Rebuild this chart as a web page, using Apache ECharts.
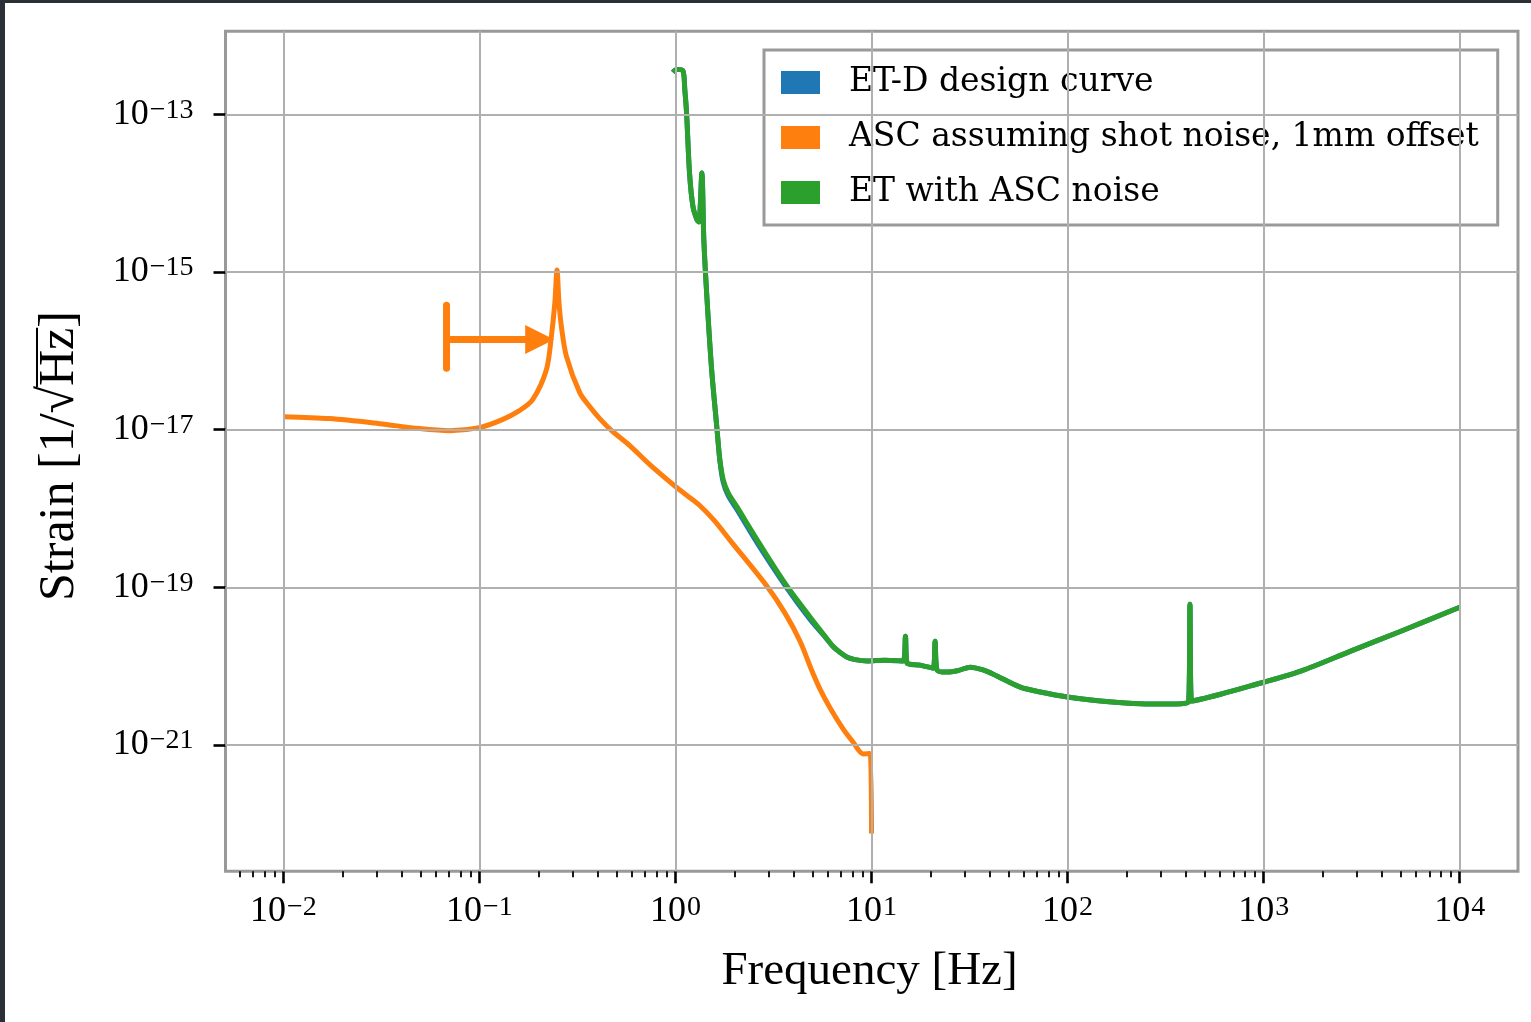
<!DOCTYPE html>
<html>
<head>
<meta charset="utf-8">
<script src="https://cdn.jsdelivr.net/npm/echarts@6/dist/echarts.min.js"></script>
<style>
  html, body { margin: 0; padding: 0; background: #fff; }
  #chart { width: 1531px; height: 1022px; }
  #edge { position: absolute; left: 0; top: 0; width: 1531px; height: 1022px; box-sizing: border-box;
          border-left: 5px solid #2b2f36; border-top: 3px solid #2b2f36; pointer-events: none; }
</style>
</head>
<body>
<div id="chart"></div>
<div id="edge"></div>
<script>
// ET-D design curve
const etdFreq = [0.97, 1.016, 1.09, 1.117, 1.14, 1.18, 1.23, 1.29, 1.317, 1.364, 1.396, 1.45, 1.53, 1.63,
  1.685, 1.752, 1.858, 2.05, 2.70, 3.71, 4.86, 5.79, 6.36, 6.91, 7.5, 8.25, 9.5, 11.7, 14.5, 14.9, 15.2, 17.7,
  20.6, 21.1, 21.6, 24.3, 27.7, 31.9, 36.7, 41.8, 57.4, 72.6, 100, 147, 197, 265, 335, 414, 421, 429, 603,
  857, 1545, 2780, 5010, 10000]
const etdStrain = [3.4e-13, 3.7e-13, 3.6e-13, 2.0e-13, 1.03e-13, 1.79e-14, 6.65e-15, 4.55e-15, 4.3e-15, 1.8e-14,
  2.54e-15, 4.4e-16, 5.75e-17, 1.0e-17, 4.0e-18, 2.15e-18, 1.45e-18, 9.85e-19, 3.2e-19, 9.7e-20, 3.9e-20,
  2.35e-20, 1.77e-20, 1.49e-20, 1.3e-20, 1.21e-20, 1.16e-20, 1.19e-20, 1.16e-20, 2.4e-20, 1.09e-20, 1.03e-20,
  9.4e-21, 2.07e-20, 8.9e-21, 8.4e-21, 8.8e-21, 9.7e-21, 9.0e-21, 7.9e-21, 5.4e-21, 4.69e-21, 4.05e-21,
  3.6e-21, 3.4e-21, 3.3e-21, 3.3e-21, 3.5e-21, 6.1e-20, 3.6e-21, 4.4e-21, 5.6e-21, 8.65e-21, 1.55e-20,
  2.77e-20, 5.58e-20]

// ASC, shot noise, 1mm offset
const ascFreq = [0.01, 0.0172, 0.0309, 0.0495, 0.0705, 0.1, 0.131, 0.160, 0.187, 0.2197, 0.2329, 0.2425,
  0.2489, 0.2545, 0.262, 0.278, 0.325, 0.366, 0.411, 0.473, 0.585, 0.74, 1.0, 1.15, 1.33, 1.58, 1.90, 2.93,
  3.62, 4.32, 4.97, 5.46, 6.15, 7.16, 8.05, 9.06, 9.84, 10.0]
const ascStrain = [1.46e-17, 1.38e-17, 1.19e-17, 1.03e-17, 9.7e-18, 1.06e-17, 1.34e-17, 1.74e-17, 2.4e-17,
  5.75e-17, 1.52e-16, 4.0e-16, 1.06e-15, 4.2e-16, 2.03e-16, 8.5e-17, 2.95e-17, 1.95e-17, 1.38e-17, 9.7e-18,
  6.27e-18, 3.6e-18, 1.9e-18, 1.45e-18, 1.09e-18, 7.0e-19, 3.94e-19, 1.03e-19, 4.7e-20, 2.07e-20, 8.65e-21,
  5.1e-21, 2.94e-21, 1.6e-21, 1.09e-21, 7.7e-22, 7.8e-22, 7.5e-23]

// ET with ASC noise
const totalFreq = etdFreq
const totalStrain = [3.4e-13, 3.7e-13, 3.6e-13, 2.0e-13, 1.03e-13, 1.79e-14, 6.65e-15, 4.55e-15, 4.3e-15, 1.8e-14,
  2.54e-15, 4.4e-16, 5.75e-17, 1.0e-17, 4.17e-18, 2.33e-18, 1.58e-18, 1.07e-18, 3.5e-19, 1.03e-19, 4.2e-20,
  2.4e-20, 1.79e-20, 1.5e-20, 1.3e-20, 1.21e-20, 1.16e-20, 1.19e-20, 1.16e-20, 2.4e-20, 1.09e-20, 1.03e-20,
  9.4e-21, 2.07e-20, 8.9e-21, 8.4e-21, 8.8e-21, 9.7e-21, 9.0e-21, 7.9e-21, 5.4e-21, 4.69e-21, 4.05e-21,
  3.6e-21, 3.4e-21, 3.3e-21, 3.3e-21, 3.5e-21, 6.1e-20, 3.6e-21, 4.4e-21, 5.6e-21, 8.65e-21, 1.55e-20,
  2.77e-20, 5.58e-20]

// arrow annotation
const arrowFreq = [0.068, 0.203]
const arrowStrain = 1.39e-16
const barStrain = [3.77e-16, 6.0e-17]

// tick exponents
const xTicks = [-2, -1, 0, 1, 2, 3, 4]
const yTicks = [-13, -15, -17, -19, -21]
const seriesNames = ['ET-D design curve', 'ASC assuming shot noise, 1mm offset', 'ET with ASC noise']

const lg = Math.log10
const pairs = (fs, hs) => fs.map((f, i) => [lg(f), lg(hs[i])])
const minorTicks = []
for (let e = -3; e <= 4; e++) {
  for (let k = 2; k <= 9; k++) minorTicks.push(e + lg(k))
}

const serif = '"Liberation Serif", "DejaVu Serif", serif'
const expText = v => '{b|10}{s|' + (v < 0 ? '\u2212' + (-v) : v) + '}'
const labelRich = {
  b: { fontSize: 36, fontFamily: serif, color: '#000', lineHeight: 36 },
  s: { fontSize: 28, fontFamily: serif, color: '#000', lineHeight: 18, verticalAlign: 'top', padding: [0, 0, 0, 1] }
}

const ctx = document.createElement('canvas').getContext('2d')
const titleSize = 50
ctx.font = titleSize + 'px "Liberation Serif"'
const wPre = ctx.measureText('Strain [1/\u221A').width
const wHz = ctx.measureText('Hz').width
const wAll = ctx.measureText('Strain [1/\u221AHz]').width

const chart = echarts.init(document.getElementById('chart'))
const gridColor = '#b0b0b0'
const curve = { type: 'line', showSymbol: false, smooth: 0.3 }

chart.setOption({
  animation: false,
  backgroundColor: '#fff',
  grid: {
    left: 225.5,
    top: 31.3,
    width: 1292.5,
    height: 840,
    show: true,
    borderColor: '#999',
    borderWidth: 3,
    backgroundColor: 'transparent'
  },
  legend: {
    orient: 'vertical',
    left: 764,
    top: 50,
    padding: [16, 19, 16, 17],
    itemWidth: 39,
    itemHeight: 23,
    itemGap: 22,
    icon: 'rect',
    borderColor: '#999',
    borderWidth: 3,
    backgroundColor: 'rgba(255,255,255,0.8)',
    textStyle: {
      fontFamily: '"DejaVu Serif", serif',
      fontSize: 33,
      color: '#000',
      padding: [0, 0, 0, 24]
    },
    data: seriesNames
  },
  xAxis: [{
    type: 'value',
    min: -2.2948,
    max: 4.2973,
    position: 'bottom',
    axisLine: { show: false, onZero: false },
    splitLine: { show: false },
    axisTick: { customValues: xTicks, length: 12, lineStyle: { color: '#000', width: 2.6 } },
    axisLabel: { customValues: xTicks, margin: 22, formatter: expText, rich: labelRich }
  }, {
    type: 'value',
    min: -2.2948,
    max: 4.2973,
    position: 'bottom',
    axisLine: { show: false, onZero: false },
    splitLine: { show: false },
    axisLabel: { show: false },
    axisTick: { customValues: minorTicks, length: 6, lineStyle: { color: '#000', width: 1.8 } }
  }],
  yAxis: {
    type: 'value',
    min: -22.603,
    max: -11.947,
    position: 'left',
    axisLine: { show: false, onZero: false },
    splitLine: { show: false },
    axisTick: { customValues: yTicks, length: 12, lineStyle: { color: '#000', width: 2.6 } },
    axisLabel: { customValues: yTicks, margin: 32, formatter: expText, rich: labelRich }
  },
  graphic: [{
    type: 'text',
    x: 869.5,
    y: 972,
    style: { text: 'Frequency [Hz]', fontSize: 47, fontFamily: serif, fill: '#000', align: 'center', verticalAlign: 'middle' }
  }, {
    type: 'group',
    x: 60,
    y: 456,
    rotation: Math.PI / 2,
    children: [{
      type: 'text',
      x: -wAll / 2,
      y: 0,
      style: { text: 'Strain [1/\u221AHz]', fontSize: titleSize, fontFamily: serif, fill: '#000', align: 'left', verticalAlign: 'middle' }
    }, {
      type: 'line',
      shape: { x1: -wAll / 2 + wPre - 1, y1: -23, x2: -wAll / 2 + wPre + wHz, y2: -23 },
      style: { stroke: '#000', lineWidth: 2 }
    }]
  }],
  series: [{
    // grid lines
    type: 'line',
    data: [],
    z: 1,
    silent: true,
    markLine: {
      silent: true,
      symbol: 'none',
      label: { show: false },
      lineStyle: { color: gridColor, width: 2, type: 'solid' },
      data: xTicks.map(v => ({ xAxis: v })).concat(yTicks.map(v => ({ yAxis: v })))
    }
  }, {
    ...curve,
    name: seriesNames[0],
    z: 3,
    color: '#1f77b4',
    lineStyle: { width: 5, color: '#1f77b4' },
    data: pairs(etdFreq, etdStrain)
  }, {
    ...curve,
    name: seriesNames[1],
    z: 3,
    color: '#ff7f0e',
    lineStyle: { width: 5, color: '#ff7f0e' },
    data: pairs(ascFreq, ascStrain)
  }, {
    ...curve,
    name: seriesNames[2],
    z: 4,
    color: '#2ca02c',
    lineStyle: { width: 5, color: '#2ca02c' },
    data: pairs(totalFreq, totalStrain)
  }, {
    // arrow annotation: bar + arrow
    type: 'line',
    z: 3,
    showSymbol: false,
    silent: true,
    lineStyle: { width: 7, color: '#ff7f0e', cap: 'round' },
    data: barStrain.map(h => [lg(arrowFreq[0]), lg(h)]),
    markLine: {
      silent: true,
      symbol: ['none', 'triangle'],
      symbolSize: [29, 29],
      label: { show: false },
      lineStyle: { color: '#ff7f0e', width: 7, type: 'solid' },
      itemStyle: { color: '#ff7f0e' },
      data: [[
        { coord: [lg(arrowFreq[0]), lg(arrowStrain)] },
        { coord: [lg(arrowFreq[1]), lg(arrowStrain)] }
      ]]
    }
  }]
})
</script>
</body>
</html>
